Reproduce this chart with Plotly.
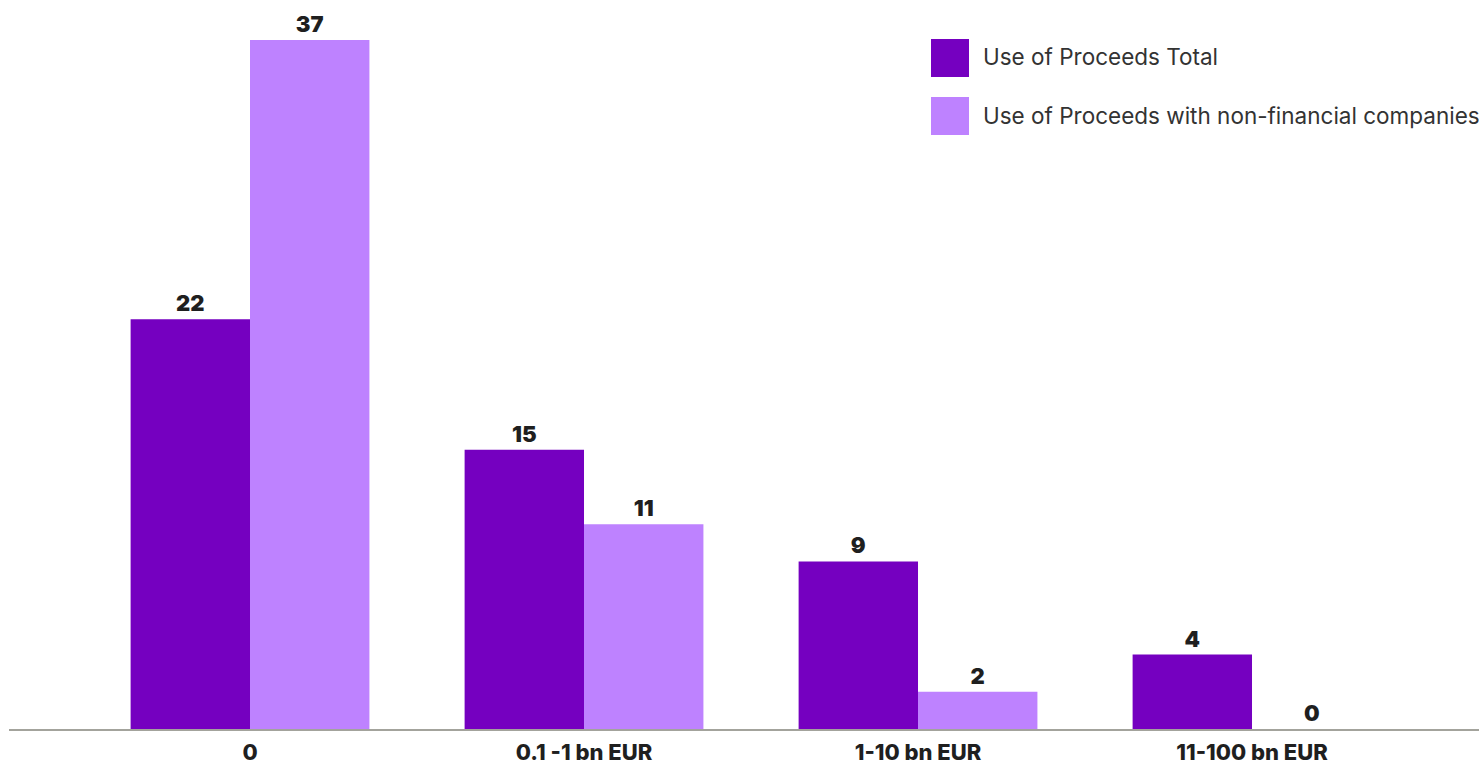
import plotly.graph_objects as go

# Issuance size buckets and counts per series
categories = ["0", "0.1 -1 bn EUR", "1-10 bn EUR", "11-100 bn EUR"]
series_names = ["Use of Proceeds Total", "Use of Proceeds with non-financial companies"]
total_counts = [22, 15, 9, 4]
nonfin_counts = [37, 11, 2, 0]
series_colors = ["#7500C0", "#BE82FF"]

W, H = 1479, 767
LEFT, BASE = 9, 729
fig = go.Figure()

for name, vals, col in zip(series_names, [total_counts, nonfin_counts], series_colors):
    fig.add_trace(go.Bar(
        x=list(range(len(categories))),
        y=vals,
        name=name,
        marker=dict(color=col, line=dict(width=0)),
        text=[str(v) for v in vals],
        textposition="outside",
        cliponaxis=False,
        textfont=dict(family="Inter", size=22, color="#1f1f1f", weight=900),
        showlegend=False,
    ))

# Custom legend with large swatches
legend_top = 39
legend_step = 58
for i, (name, col) in enumerate(zip(series_names, series_colors)):
    y0 = legend_top + i * legend_step
    fig.add_shape(type="rect", xref="paper", yref="paper",
                  x0=(931 - LEFT) / (W - LEFT), x1=(969 - LEFT) / (W - LEFT),
                  y0=1 - (y0 + 38) / BASE, y1=1 - y0 / BASE,
                  fillcolor=col, line=dict(width=0))
    fig.add_annotation(xref="paper", yref="paper",
                       x=(981 - LEFT) / (W - LEFT), y=1 - (y0 + 18) / BASE,
                       xanchor="left", yanchor="middle", showarrow=False,
                       text=name,
                       font=dict(family="Inter", size=22.5, color="#333333"))

fig.update_layout(
    width=W, height=H,
    margin=dict(l=LEFT, r=0, t=0, b=H - BASE),
    paper_bgcolor="white", plot_bgcolor="white",
    barmode="group", bargap=0.285, bargroupgap=0,
    xaxis=dict(
        range=[-0.7216, 3.6796],
        tickmode="array", tickvals=list(range(len(categories))), ticktext=categories,
        tickfont=dict(family="Inter", size=22, color="#1f1f1f", weight=800),
        showline=True, linecolor="#A3A39C", linewidth=2,
        showgrid=False, zeroline=False, ticks="",
        ticklabelstandoff=3, automargin=False,
    ),
    yaxis=dict(range=[0, BASE / 18.62], visible=False, showgrid=False,
               zeroline=False, automargin=False),
)

fig.write_html("out.html")
